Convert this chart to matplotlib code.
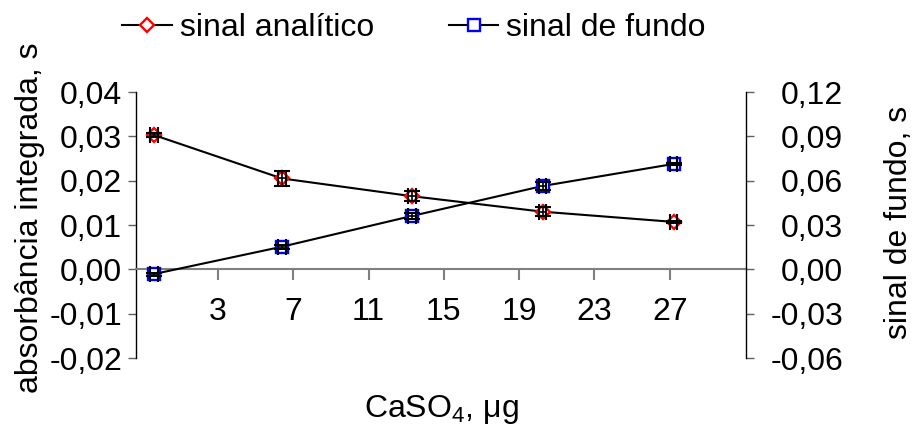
import matplotlib
matplotlib.use("Agg")
import matplotlib.pyplot as plt
from matplotlib.ticker import FuncFormatter, FixedLocator
from matplotlib.lines import Line2D

plt.rcParams['font.family'] = ['Liberation Sans', 'DejaVu Sans']
plt.rcParams['mathtext.fontset'] = 'custom'
plt.rcParams['mathtext.rm'] = 'Liberation Sans'

# CaSO4 mass (µg)
caso4 = [-0.4, 6.4, 13.3, 20.25, 27.2]
# integrated absorbance of the analytical signal (s) and its deviation
sinal_analitico = [0.0303, 0.0205, 0.0165, 0.0130, 0.0107]
erro_analitico = [0.0004, 0.0017, 0.0011, 0.0010, 0.0003]
# background signal (s) and its deviation
sinal_fundo = [-0.0032, 0.0153, 0.0361, 0.0564, 0.0713]
erro_fundo = [0.0010, 0.0015, 0.0020, 0.0025, 0.0008]

x_ticks = [3, 7, 11, 15, 19, 23, 27]
y_left_ticks = [-0.02, -0.01, 0.00, 0.01, 0.02, 0.03, 0.04]
y_right_ticks = [-0.06, -0.03, 0.00, 0.03, 0.06, 0.09, 0.12]

FS = 23
D_MS, S_MS, MEW = 7.5, 9.0, 1.7

def virgula(v, pos=None):
    s = f"{v:.2f}".replace('.', ',')
    if s == '-0,00':
        s = '0,00'
    return s

fig = plt.figure(figsize=(9.13, 4.25), dpi=100)
ax = fig.add_axes([136/913, 1 - 358/425, (746-136)/913, (358-92)/425])
ax2 = ax.twinx()

ax.set_xlim(-1.35, 31.05)
ax.set_ylim(-0.02, 0.04)
ax2.set_ylim(-0.06, 0.12)

# analytical signal
ax.plot(caso4, sinal_analitico, color='black', lw=1.5, zorder=2)
ax.plot(caso4, sinal_analitico, ls='none', marker='D', ms=D_MS, mfc='white',
        mec='red', mew=MEW, zorder=3)
ax.errorbar(caso4, sinal_analitico, yerr=erro_analitico, xerr=0.2, fmt='none',
            ecolor='black', elinewidth=1.2, capsize=6, capthick=1.5, zorder=4)

# background signal
ax2.plot(caso4, sinal_fundo, color='black', lw=1.5, zorder=2)
ax2.plot(caso4, sinal_fundo, ls='none', marker='s', ms=S_MS, mfc='white',
         mec='blue', mew=MEW, zorder=3)
ax2.errorbar(caso4, sinal_fundo, yerr=erro_fundo, xerr=0.2, fmt='none',
             ecolor='black', elinewidth=1.2, capsize=6, capthick=1.5, zorder=4)

# spines
for a in (ax, ax2):
    a.spines['top'].set_visible(False)
    a.patch.set_visible(False)
ax2.spines['bottom'].set_visible(False)
ax2.spines['left'].set_visible(False)
ax.spines['right'].set_visible(False)
ax.spines['bottom'].set_position(('data', 0))
ax.spines['bottom'].set_color('#808080')
ax.spines['bottom'].set_linewidth(1.5)
ax.spines['left'].set_color('black')
ax.spines['left'].set_linewidth(1.0)
ax2.spines['right'].set_color('black')
ax2.spines['right'].set_linewidth(1.0)

ax.xaxis.set_major_locator(FixedLocator(x_ticks))
ax.tick_params(axis='x', direction='out', length=8, width=1.5, color='#808080',
               labelsize=FS, pad=12)
ax.yaxis.set_major_locator(FixedLocator(y_left_ticks))
ax.yaxis.set_major_formatter(FuncFormatter(virgula))
ax.tick_params(axis='y', direction='out', length=6, width=1.0, color='#606060',
               labelsize=FS, pad=4)
ax2.yaxis.set_major_locator(FixedLocator(y_right_ticks))
ax2.yaxis.set_major_formatter(FuncFormatter(virgula))
ax2.tick_params(axis='y', direction='out', length=6, width=1.0, color='#606060',
                labelsize=FS, pad=64)
for lbl in ax2.get_yticklabels():
    lbl.set_horizontalalignment('right')

fig.text(30/913, 1 - 218/425, 'absorbância integrada, s', rotation=90,
         ha='center', va='center', fontsize=FS)
fig.text(899/913, 1 - 222/425, 'sinal de fundo, s', rotation=90,
         ha='center', va='center', fontsize=FS)
fig.text(441/913, 1 - 409/425, 'CaSO$_4$, μg', ha='center', va='center', fontsize=FS)

handles = [
    Line2D([], [], color='black', lw=1.5, marker='D', ms=D_MS, mfc='white',
           mec='red', mew=MEW),
    Line2D([], [], color='black', lw=1.5, marker='s', ms=S_MS, mfc='white',
           mec='blue', mew=MEW),
]
fig.legend(handles, ['sinal analítico', 'sinal de fundo'], ncol=2,
           loc='center left', bbox_to_anchor=(122/913, 1 - 28/425),
           frameon=False, fontsize=FS, handlelength=1.55, handletextpad=0.25,
           columnspacing=2.35, borderpad=0, borderaxespad=0)

fig.savefig('out.png', dpi=100)
